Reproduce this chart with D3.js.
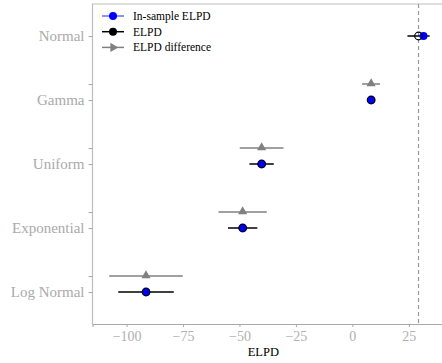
<!DOCTYPE html>
<html>
<head>
<meta charset="utf-8">
<script src="https://cdn.jsdelivr.net/npm/d3@7"></script>
<style>
  body { margin: 0; background: #fff; }
  text { font-family: "Liberation Serif", "Times New Roman", serif; }
</style>
</head>
<body>
<svg id="chart" width="442" height="363"></svg>
<script>
// model comparison values (ELPD scale)
const models = ["Normal", "Gamma", "Uniform", "Exponential", "Log Normal"];
const elpd = [29.3, 8.3, -40.2, -48.6, -91.4];
const elpdSe = [4.9, 0, 5.4, 6.5, 12.3];
const insample = [31.5, 8.4, -40.1, -48.5, -91.3];
const diffSe = [0, 4.0, 9.7, 10.7, 16.3];
const xTicks = [-100, -75, -50, -25, 0, 25];

const W = 442, H = 363;
const M = { top: 4, right: 0, bottom: 39, left: 92.5 };
const SERIF = "Liberation Serif, Times New Roman, serif";

const svg = d3.select("#chart");

const x = d3.scaleLinear()
  .domain([-115.1, 39.7])
  .range([M.left, W - M.right]);

const y = d3.scaleLinear()
  .domain([-0.5, models.length - 0.5])
  .range([M.top, H - M.bottom]);

const DIFF_OFF = -0.25;
const grey = "#808080";
const axisGrey = "#a8a8a8";

// frame
svg.append("path")
  .attr("d", `M${M.left},${H - M.bottom}V${M.top}H${W}`)
  .attr("fill", "none")
  .attr("stroke", "#bdbdbd")
  .attr("stroke-width", 1.2);

// x axis
const xAxis = svg.append("g")
  .attr("transform", `translate(0,${H - M.bottom})`)
  .call(d3.axisBottom(x).tickValues(xTicks).tickSize(3).tickPadding(4)
    .tickFormat(d => (d < 0 ? "\u2212" + Math.abs(d) : d)));
xAxis.attr("font-family", SERIF);
xAxis.select(".domain").attr("stroke", axisGrey).attr("stroke-width", 1.2);
xAxis.selectAll(".tick line").attr("stroke", axisGrey);
xAxis.selectAll("text")
  .attr("fill", "#b0b0b0")
  .attr("font-family", SERIF)
  .style("font-size", "14px");

svg.append("text")
  .attr("x", x(0) - 89)
  .attr("y", H - 7)
  .attr("text-anchor", "middle")
  .attr("font-family", SERIF)
  .style("font-size", "12.5px")
  .text("ELPD");

// y ticks: model rows and difference rows
const yTickPos = [];
models.forEach((m, i) => {
  yTickPos.push(i);
  if (i > 0) yTickPos.push(i + DIFF_OFF);
});
const yAxis = svg.append("g")
  .attr("transform", `translate(${M.left},0)`)
  .call(d3.axisLeft(y).tickValues(yTickPos).tickSize(4).tickPadding(4)
    .tickFormat(d => (Number.isInteger(d) ? models[d] : "")));
yAxis.attr("font-family", SERIF);
yAxis.select(".domain").remove();
yAxis.selectAll(".tick line").attr("stroke", axisGrey);
yAxis.selectAll("text")
  .attr("fill", "#aaaaaa")
  .attr("font-family", SERIF)
  .style("font-size", "15px");

// reference line at best ELPD
svg.append("line")
  .attr("x1", x(elpd[0])).attr("x2", x(elpd[0]))
  .attr("y1", M.top).attr("y2", H - M.bottom)
  .attr("stroke", "#999")
  .attr("stroke-width", 1.2)
  .attr("stroke-dasharray", "4,3");

const rows = models.map((m, i) => ({
  name: m, i, elpd: elpd[i], se: elpdSe[i], insample: insample[i], dse: diffSe[i]
}));

// ELPD difference error bars + triangles
const diffRows = rows.slice(1);
svg.append("g").selectAll("line")
  .data(diffRows)
  .join("line")
  .attr("x1", d => x(d.elpd - d.dse))
  .attr("x2", d => x(d.elpd + d.dse))
  .attr("y1", d => y(d.i + DIFF_OFF))
  .attr("y2", d => y(d.i + DIFF_OFF))
  .attr("stroke", grey)
  .attr("stroke-width", 1.5);

const tri = d3.symbol().type(d3.symbolTriangle).size(36);
svg.append("g").selectAll("path")
  .data(diffRows)
  .join("path")
  .attr("d", tri)
  .attr("transform", d => `translate(${x(d.elpd)},${y(d.i + DIFF_OFF) - 0.5})`)
  .attr("fill", grey);

// ELPD error bars
svg.append("g").selectAll("line")
  .data(rows.filter(d => d.se > 0))
  .join("line")
  .attr("x1", d => x(d.elpd - d.se))
  .attr("x2", d => x(d.elpd + d.se))
  .attr("y1", d => y(d.i))
  .attr("y2", d => y(d.i))
  .attr("stroke", "#000")
  .attr("stroke-width", 1.5);

// in-sample points
svg.append("g").selectAll("circle")
  .data(rows)
  .join("circle")
  .attr("cx", d => x(d.insample))
  .attr("cy", d => y(d.i))
  .attr("r", 4)
  .attr("fill", "#0000ff");

// ELPD open circles
svg.append("g").selectAll("circle")
  .data(rows)
  .join("circle")
  .attr("cx", d => x(d.elpd))
  .attr("cy", d => y(d.i))
  .attr("r", 3.8)
  .attr("fill", "none")
  .attr("stroke", "#000")
  .attr("stroke-width", 1.2);

// legend
const legendItems = [
  { label: "In-sample ELPD", line: "#6a6aff", color: "#0000ff", shape: "circle" },
  { label: "ELPD", line: "#000", color: "#000", shape: "circle" },
  { label: "ELPD difference", line: grey, color: grey, shape: "triangle" }
];
const lg = svg.append("g").attr("transform", "translate(102,16)");
const li = lg.selectAll("g")
  .data(legendItems)
  .join("g")
  .attr("transform", (d, i) => `translate(0,${i * 15.7})`);
li.append("line")
  .attr("x1", 0).attr("x2", 22)
  .attr("stroke", d => d.line)
  .attr("stroke-width", 1.5);
li.filter(d => d.shape === "circle").append("circle")
  .attr("cx", 11).attr("r", 4)
  .attr("fill", d => d.color);
li.filter(d => d.shape === "triangle").append("path")
  .attr("d", tri)
  .attr("transform", "translate(11,0) rotate(90)")
  .attr("fill", d => d.color);
li.append("text")
  .attr("x", 31)
  .attr("dy", "0.35em")
  .attr("font-family", SERIF)
  .style("font-size", "11.5px")
  .text(d => d.label);
</script>
</body>
</html>
